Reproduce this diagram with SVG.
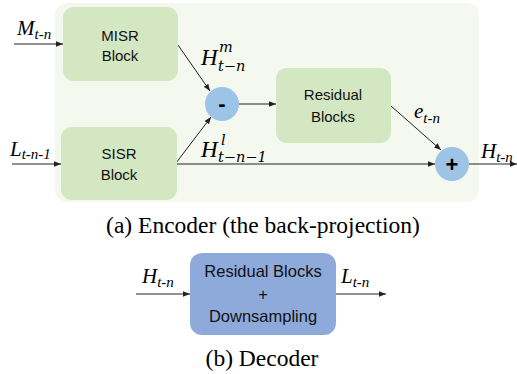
<svg xmlns="http://www.w3.org/2000/svg" width="517" height="374" viewBox="0 0 517 374">
<style>
.box{fill:#d3e7c3}
.circ{fill:#9dc3e6}
.lbl{font-family:"Liberation Sans",Arial,sans-serif;font-size:15px;fill:#111;text-anchor:middle}
.op{font-family:"Liberation Sans",Arial,sans-serif;font-size:22px;font-weight:bold;fill:#000;text-anchor:middle}
.m{font-family:"Liberation Serif","Times New Roman",serif;font-style:italic;fill:#000;font-size:21px}
.s{font-size:15px}
.mm{font-family:"DejaVu Serif",serif;font-style:italic;fill:#000;font-size:14.5px}
.cap{font-family:"Liberation Serif","Times New Roman",serif;font-size:23.5px;fill:#000;text-anchor:middle}
.ln{stroke:#222;stroke-width:1;fill:none;marker-end:url(#ah)}
</style>
<defs>
<marker id="ah" viewBox="0 0 8 8" refX="8" refY="4" markerWidth="7" markerHeight="7" markerUnits="userSpaceOnUse" orient="auto">
<path d="M0,0.8 L8,4 L0,7.2 z" fill="#222"/>
</marker>
</defs>
<rect id="bg" x="55" y="3" width="424" height="199" rx="12" fill="#f4f8ef"/>
<g id="connectors">
<line class="ln" x1="14" y1="44" x2="63" y2="44"/>
<line class="ln" x1="12" y1="164" x2="61" y2="164"/>
<line class="ln" x1="178" y1="45" x2="210" y2="91"/>
<line class="ln" x1="176" y1="163" x2="211" y2="117"/>
<line class="ln" x1="239" y1="104" x2="276" y2="104"/>
<line class="ln" x1="391" y1="106" x2="441" y2="150"/>
<line class="ln" x1="176" y1="164" x2="435" y2="164"/>
<line class="ln" x1="469" y1="164" x2="517" y2="164"/>
<line class="ln" x1="136" y1="294" x2="190" y2="294"/>
<line class="ln" x1="336" y1="294" x2="386" y2="294"/>
</g>
<g id="misr">
<rect class="box" x="63" y="7" width="115" height="74" rx="11"/>
<text class="lbl" x="120" y="41">MISR</text>
<text class="lbl" x="120" y="61">Block</text>
</g>
<g id="sisr">
<rect class="box" x="61" y="127" width="116" height="73" rx="11"/>
<text class="lbl" x="119" y="159">SISR</text>
<text class="lbl" x="119" y="180">Block</text>
</g>
<g id="minus">
<circle class="circ" cx="222" cy="104" r="17"/>
<text class="op" x="222" y="111">-</text>
</g>
<g id="residual">
<rect class="box" x="276" y="68" width="115" height="75" rx="11"/>
<text class="lbl" x="333" y="100">Residual</text>
<text class="lbl" x="333" y="122">Blocks</text>
</g>
<g id="plus">
<circle class="circ" cx="452" cy="164" r="17"/>
<text class="op" x="452" y="172">+</text>
</g>
<g id="decoder">
<rect x="190" y="253" width="146" height="82" rx="12" fill="#8eaadb"/>
<text class="lbl" x="263" y="277" style="font-size:16.5px">Residual Blocks</text>
<text class="lbl" x="263" y="300" style="font-size:16.5px">+</text>
<text class="lbl" x="263" y="322" style="font-size:16.5px">Downsampling</text>
</g>
<g id="labels">
<text class="m" x="17" y="35">M<tspan class="s" dy="4">t-n</tspan></text>
<text class="m" x="10" y="156">L<tspan class="s" dy="3">t-n-1</tspan></text>
<text class="m" x="201" y="65" style="font-size:23px">H</text>
<text class="mm" x="219" y="52">m</text>
<text class="mm" x="218" y="71">t−n</text>
<text class="m" x="201" y="157" style="font-size:23px">H</text>
<text class="mm" x="221" y="145">l</text>
<text class="mm" x="218" y="162">t−n−1</text>
<text class="m" x="414" y="118">e<tspan class="s" dy="5">t-n</tspan></text>
<text class="m" x="481" y="158">H<tspan class="s" dy="4">t-n</tspan></text>
<text class="m" x="142" y="283">H<tspan class="s" dy="4">t-n</tspan></text>
<text class="m" x="341" y="283">L<tspan class="s" dy="4">t-n</tspan></text>
</g>
<text class="cap" x="263" y="233">(a) Encoder (the back-projection)</text>
<text class="cap" x="262" y="366">(b) Decoder</text>
</svg>
